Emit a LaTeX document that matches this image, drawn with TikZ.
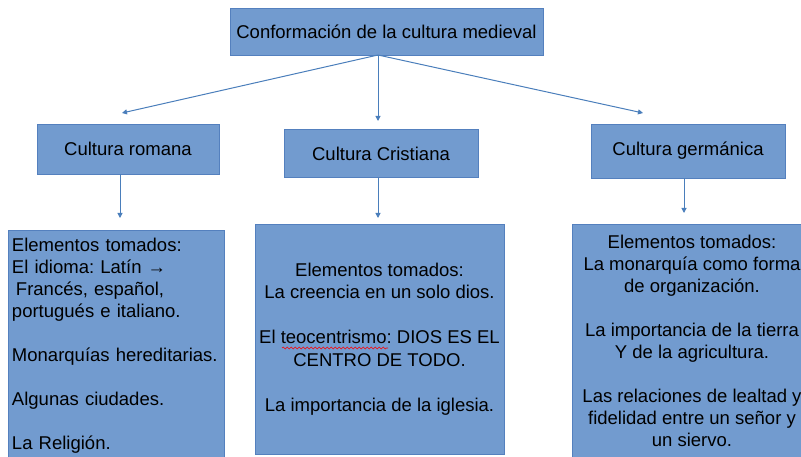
\documentclass[tikz,border=0pt]{standalone}
\usepackage{fontspec}
\setmainfont{Liberation Sans}
\frenchspacing
\usetikzlibrary{arrows.meta, decorations.pathmorphing}
\definecolor{boxfill}{RGB}{114,155,207}
\definecolor{boxline}{RGB}{84,128,190}
\definecolor{linkblue}{RGB}{74,126,187}

\begin{document}
\begin{tikzpicture}
[every node/.style={inner sep=4pt, font=\fontsize{18.5}{22}\selectfont},
 box/.style={rectangle, fill=boxfill, draw=boxline, line width=0.8pt},
 link/.style={line width=1pt, color=linkblue, -{Triangle[length=5pt, width=5pt]}},
 spellmark/.style={color=red, line width=0.6pt, decorate, decoration={snake, amplitude=0.9pt, segment length=4pt}}]
\useasboundingbox (0pt, 0pt) rectangle (801pt, -457pt);
\clip (0pt, 0pt) rectangle (801pt, -457pt);
\node (medieval) [box, minimum width=313pt, minimum height=47pt] at (386.5pt, -31.5pt) {Conformación de la cultura medieval};
\node (romana) [box, minimum width=182pt, minimum height=50pt] at (128.0pt, -149.0pt) {Cultura romana};
\node (cristiana) [box, minimum width=194pt, minimum height=48pt] at (381.0pt, -153.5pt) {Cultura Cristiana};
\node (germanica) [box, minimum width=194pt, minimum height=54pt] at (688.0pt, -151.0pt) {Cultura germánica};
\node (romanalist) [box, text width=208pt, align=left, minimum height=232pt] at (116.0pt, -346.0pt) {Elementos tomados:\\ El idioma: Latín →\\ \hspace*{4pt}Francés, español,\\ portugués e italiano.\\[22pt] Monarquías hereditarias.\\[22pt] Algunas ciudades.\\[22pt] La Religión.\par\vspace*{14pt}};
\node (cristianalist) [box, align=center, minimum width=249pt, minimum height=230pt, font=\fontsize{18.5}{22.5}\selectfont] at (379.5pt, -339.0pt) {Elementos tomados:\\ La creencia en un solo dios.\\[22.5pt] El teocentrismo: DIOS ES EL\\ CENTRO DE TODO.\\[22.5pt] La importancia de la iglesia.};
\node (germanicalist) [box, align=center, minimum width=240pt, minimum height=234pt] at (692.0pt, -341.0pt) {Elementos tomados:\\ La monarquía como forma\\ de organización.\\[22pt] La importancia de la tierra\\ Y de la agricultura.\\[22pt] Las relaciones de lealtad y\\ fidelidad entre un señor y\\ un siervo.};
\coordinate (hub) at (378.0pt, -55.0pt);
\coordinate (romanatip) at (122.0pt, -113.0pt);
\coordinate (cristianatip) at (378.0pt, -121.0pt);
\coordinate (germanicatip) at (643.0pt, -113.0pt);
\coordinate (romanaend) at (120.0pt, -218.0pt);
\coordinate (cristianaend) at (378.0pt, -218.0pt);
\coordinate (germanicaend) at (684.0pt, -213.0pt);
\draw [link] (hub) to (romanatip);
\draw [link] (hub) to (cristianatip);
\draw [link] (hub) to (germanicatip);
\draw [link] (romana.south -| romanaend) to (romanaend);
\draw [link] (cristiana.south -| cristianaend) to (cristianaend);
\draw [link] (germanica.south -| germanicaend) to (germanicaend);
\draw [spellmark] (282pt, -348pt) to (388pt, -348pt);
\end{tikzpicture}
\end{document}
